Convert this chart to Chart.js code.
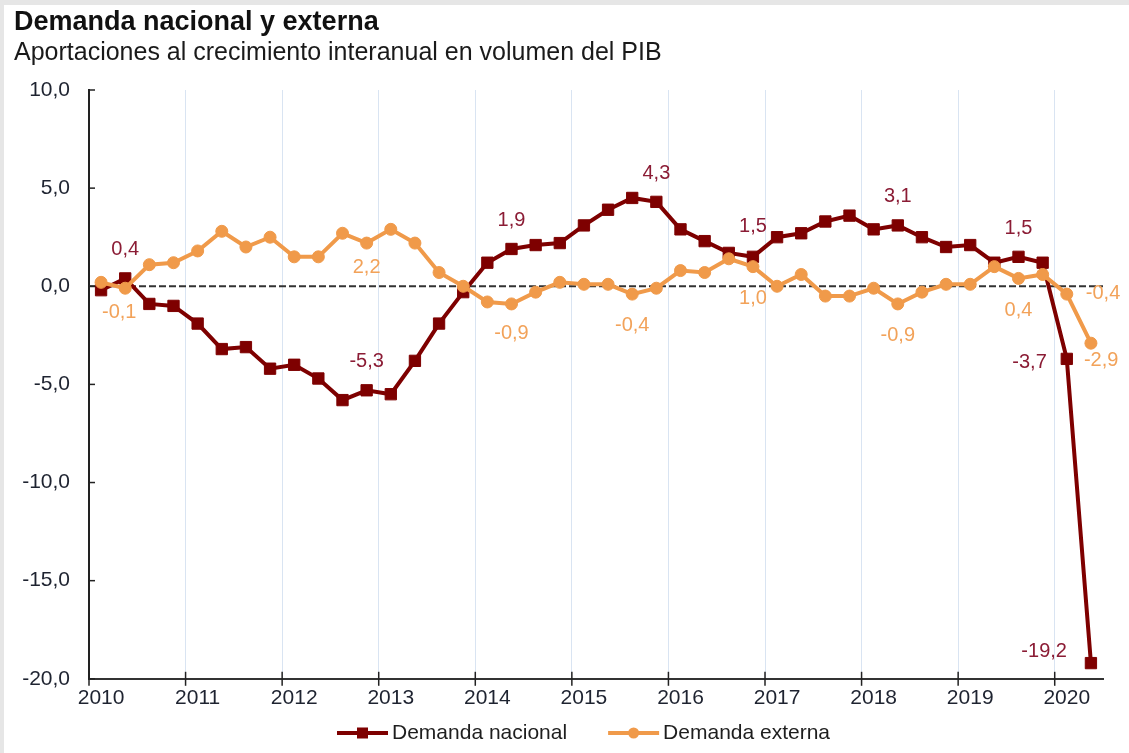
<!DOCTYPE html>
<html lang="es">
<head>
<meta charset="utf-8">
<title>Demanda nacional y externa</title>
<script src="https://cdn.jsdelivr.net/npm/chart.js@4.4.1/dist/chart.umd.min.js"></script>
<style>
  html, body { margin: 0; padding: 0; background: #ffffff; }
  canvas { display: block; }
</style>
</head>
<body>
<canvas id="chart" width="1129" height="753"></canvas>
<script>
// Trimestres 2010-T1 a 2020-T2
const quarters = [
  '2010-T1','2010-T2','2010-T3','2010-T4',
  '2011-T1','2011-T2','2011-T3','2011-T4',
  '2012-T1','2012-T2','2012-T3','2012-T4',
  '2013-T1','2013-T2','2013-T3','2013-T4',
  '2014-T1','2014-T2','2014-T3','2014-T4',
  '2015-T1','2015-T2','2015-T3','2015-T4',
  '2016-T1','2016-T2','2016-T3','2016-T4',
  '2017-T1','2017-T2','2017-T3','2017-T4',
  '2018-T1','2018-T2','2018-T3','2018-T4',
  '2019-T1','2019-T2','2019-T3','2019-T4',
  '2020-T1','2020-T2'
];

// Rótulos del eje horizontal (uno por año, en el primer trimestre)
const yearLabels = ['2010','2011','2012','2013','2014','2015','2016','2017','2018','2019','2020'];

// Aportaciones al crecimiento interanual del PIB (puntos porcentuales)
const demandaNacional = [
  -0.2, 0.4, -0.9, -1.0,
  -1.9, -3.2, -3.1, -4.2,
  -4.0, -4.7, -5.8, -5.3,
  -5.5, -3.8, -1.9, -0.3,
   1.2, 1.9, 2.1, 2.2,
   3.1, 3.9, 4.5, 4.3,
   2.9, 2.3, 1.7, 1.5,
   2.5, 2.7, 3.3, 3.6,
   2.9, 3.1, 2.5, 2.0,
   2.1, 1.2, 1.5, 1.2,
  -3.7, -19.2
];

const demandaExterna = [
   0.2, -0.1, 1.1, 1.2,
   1.8, 2.8, 2.0, 2.5,
   1.5, 1.5, 2.7, 2.2,
   2.9, 2.2, 0.7, 0.0,
  -0.8, -0.9, -0.3, 0.2,
   0.1, 0.1, -0.4, -0.1,
   0.8, 0.7, 1.4, 1.0,
   0.0, 0.6, -0.5, -0.5,
  -0.1, -0.9, -0.3, 0.1,
   0.1, 1.0, 0.4, 0.6,
  -0.4, -2.9
];

// Trimestres cuyo valor se rotula
const rotulosNacional = [1, 11, 17, 23, 27, 33, 38, 40, 41];
const rotulosExterna = [1, 11, 17, 22, 27, 33, 38, 40, 41];

// Eje vertical
const yMin = -20;
const yMax = 10;
const yStep = 5;

// Estilo
const FONT = '"Liberation Sans", Arial, Helvetica, sans-serif';
const COLOR_NAC = '#7e0000';
const COLOR_EXT = '#f09a4a';
const TEXT_NAC = '#8b1c35';
const TEXT_EXT = '#f2a259';
const TEXT_AXIS = '#1e2330';

// Colocación de cada rótulo respecto a su punto: [dx, dy, alineación]
const placeNac = {
  1: [0, -29, 'center'], 11: [0, -29, 'center'], 17: [0, -28, 'center'],
  23: [0, -28, 'center'], 27: [0, -30, 'center'], 33: [0, -29, 'center'],
  38: [0, -28, 'center'], 40: [-20, 4, 'right'], 41: [-24, -12, 'right']
};
const placeExt = {
  1: [-6, 24, 'center'], 11: [0, 24, 'center'], 17: [0, 30, 'center'],
  22: [0, 31, 'center'], 27: [0, 32, 'center'], 33: [0, 32, 'center'],
  38: [0, 32, 'center'], 40: [19, -1, 'left'], 41: [-7, 17, 'left']
};

const fmt = v => v.toFixed(1).replace('.', ',');

// Fondo blanco con el marco gris claro de la lámina
const backgroundPlugin = {
  id: 'fondo',
  beforeDraw(chart) {
    const { ctx, width, height } = chart;
    ctx.save();
    ctx.fillStyle = '#ffffff';
    ctx.fillRect(0, 0, width, height);
    ctx.fillStyle = '#e6e6e6';
    ctx.fillRect(0, 0, width, 5);
    ctx.fillRect(0, 0, 4, height);
    ctx.restore();
  }
};

// Línea discontinua del cero y marcas de los ejes
const axisPlugin = {
  id: 'ejes',
  beforeDatasetsDraw(chart) {
    const { ctx, chartArea, scales } = chart;
    const y0 = scales.y.getPixelForValue(0);
    ctx.save();
    ctx.strokeStyle = '#333333';
    ctx.lineWidth = 2;
    ctx.setLineDash([7, 3]);
    ctx.beginPath();
    ctx.moveTo(chartArea.left, y0);
    ctx.lineTo(chartArea.right, y0);
    ctx.stroke();
    ctx.setLineDash([]);

    // marcas del eje vertical (hacia dentro)
    ctx.strokeStyle = '#222222';
    ctx.lineWidth = 1.5;
    scales.y.ticks.forEach(t => {
      const y = scales.y.getPixelForValue(t.value);
      ctx.beginPath();
      ctx.moveTo(chartArea.left, y);
      ctx.lineTo(chartArea.left + 6, y);
      ctx.stroke();
    });

    // marcas del eje horizontal (cruzan el eje) en el límite de cada año
    const xs = scales.x;
    const half = (xs.getPixelForValue(1) - xs.getPixelForValue(0)) / 2;
    for (let i = 0; i < quarters.length; i += 4) {
      const x = xs.getPixelForValue(i) - half;
      ctx.beginPath();
      ctx.moveTo(x, chartArea.bottom - 7);
      ctx.lineTo(x, chartArea.bottom + 7);
      ctx.stroke();
    }
    ctx.restore();
  }
};

// Rótulos de valores
const labelsPlugin = {
  id: 'rotulos',
  afterDatasetsDraw(chart) {
    const ctx = chart.ctx;
    ctx.save();
    ctx.font = '20px ' + FONT;
    ctx.textBaseline = 'middle';
    const sets = [
      [0, rotulosNacional, placeNac, TEXT_NAC],
      [1, rotulosExterna, placeExt, TEXT_EXT]
    ];
    sets.forEach(([ds, idxs, place, color]) => {
      const meta = chart.getDatasetMeta(ds);
      const values = chart.data.datasets[ds].data;
      ctx.fillStyle = color;
      idxs.forEach(i => {
        const pt = meta.data[i];
        const [dx, dy, align] = place[i];
        ctx.textAlign = align;
        ctx.fillText(fmt(values[i]), pt.x + dx, pt.y + dy);
      });
    });
    ctx.restore();
  }
};

// Leyenda inferior: línea con marcador y nombre de la serie
const legendPlugin = {
  id: 'leyenda',
  afterDraw(chart) {
    const { ctx, chartArea } = chart;
    const y = 733;
    let x = chartArea.left + 248;
    ctx.save();
    ctx.font = '21px ' + FONT;
    ctx.textBaseline = 'middle';
    ctx.textAlign = 'left';
    chart.data.datasets.forEach(ds => {
      ctx.strokeStyle = ds.borderColor;
      ctx.fillStyle = ds.borderColor;
      ctx.lineWidth = 4;
      ctx.beginPath();
      ctx.moveTo(x, y);
      ctx.lineTo(x + 51, y);
      ctx.stroke();
      const cx = x + 25.5;
      if (ds.pointStyle === 'rect') {
        ctx.fillRect(cx - 5.5, y - 5.5, 11, 11);
      } else {
        ctx.beginPath();
        ctx.arc(cx, y, 5.5, 0, Math.PI * 2);
        ctx.fill();
      }
      ctx.fillStyle = '#1e1e1e';
      ctx.fillText(ds.label, x + 55, y);
      x += 55 + ctx.measureText(ds.label).width + 41;
    });
    ctx.restore();
  }
};

new Chart(document.getElementById('chart'), {
  type: 'line',
  data: {
    labels: quarters,
    datasets: [
      {
        label: 'Demanda nacional',
        data: demandaNacional,
        borderColor: COLOR_NAC,
        backgroundColor: COLOR_NAC,
        borderWidth: 4,
        pointStyle: 'rect',
        pointRadius: 8,
        pointBorderWidth: 1,
        pointBackgroundColor: COLOR_NAC,
        pointBorderColor: COLOR_NAC,
        tension: 0,
        order: 2
      },
      {
        label: 'Demanda externa',
        data: demandaExterna,
        borderColor: COLOR_EXT,
        backgroundColor: COLOR_EXT,
        borderWidth: 4,
        pointStyle: 'circle',
        pointRadius: 6,
        pointBorderWidth: 1,
        pointBackgroundColor: COLOR_EXT,
        pointBorderColor: COLOR_EXT,
        tension: 0,
        order: 1
      }
    ]
  },
  options: {
    responsive: false,
    animation: false,
    devicePixelRatio: 1,
    layout: { padding: { left: 14, right: 26, top: 0, bottom: 35 } },
    plugins: {
      legend: { display: false },
      tooltip: { enabled: false },
      title: {
        display: true,
        text: 'Demanda nacional y externa',
        align: 'start',
        color: '#111111',
        font: { family: FONT, size: 27, weight: 'bold' },
        padding: { top: 6, bottom: 0 }
      },
      subtitle: {
        display: true,
        text: 'Aportaciones al crecimiento interanual en volumen del PIB',
        align: 'start',
        color: '#1a1a1a',
        font: { family: FONT, size: 25 },
        padding: { top: 0, bottom: 21.6 }
      }
    },
    scales: {
      x: {
        type: 'category',
        offset: true,
        grid: {
          offset: true,
          drawTicks: false,
          lineWidth: 1,
          color: c => (c.index !== undefined && c.index % 4 === 0) ? '#d9e4f2' : 'rgba(0,0,0,0)'
        },
        border: { color: '#333333', width: 2 },
        ticks: {
          autoSkip: false,
          maxRotation: 0,
          padding: 7,
          color: TEXT_AXIS,
          font: { family: FONT, size: 21 },
          callback: (v, i) => (i % 4 === 0 ? yearLabels[i / 4] : '')
        }
      },
      y: {
        min: yMin,
        max: yMax,
        grid: { drawOnChartArea: false, drawTicks: false },
        border: { color: '#222222', width: 2 },
        ticks: {
          stepSize: yStep,
          padding: 19,
          color: TEXT_AXIS,
          font: { family: FONT, size: 21 },
          callback: v => fmt(v)
        },
        afterFit: s => { s.width = 75; }
      }
    }
  },
  plugins: [backgroundPlugin, axisPlugin, labelsPlugin, legendPlugin]
});
</script>
</body>
</html>
